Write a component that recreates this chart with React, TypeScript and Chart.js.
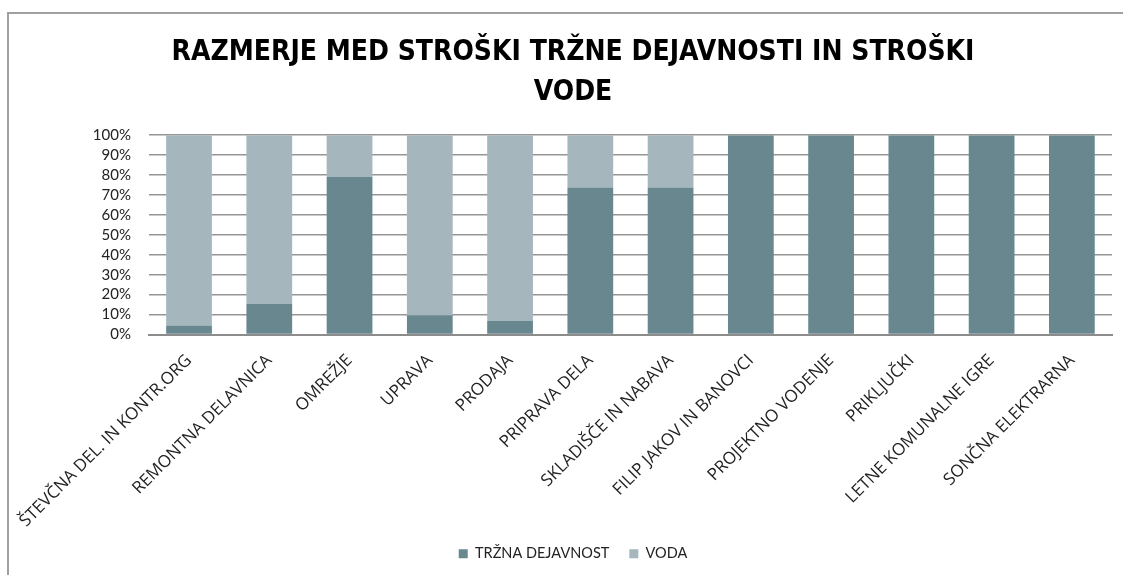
import React, { useEffect, useRef } from "react";
import { Chart, registerables } from "chart.js";

Chart.register(...registerables);

const categories = [
  "ŠTEVČNA DEL. IN KONTR.ORG",
  "REMONTNA DELAVNICA",
  "OMREŽJE",
  "UPRAVA",
  "PRODAJA",
  "PRIPRAVA DELA",
  "SKLADIŠČE IN NABAVA",
  "FILIP JAKOV IN BANOVCI",
  "PROJEKTNO VODENJE",
  "PRIKLJUČKI",
  "LETNE KOMUNALNE IGRE",
  "SONČNA ELEKTRARNA",
];

const trznaDejavnost = [4.5, 15.4, 79, 9.6, 6.9, 73.8, 73.8, 100, 100, 100, 100, 100];
const voda = [95.5, 84.6, 21, 90.4, 93.1, 26.2, 26.2, 0, 0, 0, 0, 0];

const titleLines = ["RAZMERJE MED STROŠKI TRŽNE DEJAVNOSTI IN STROŠKI", "VODE"];
const seriesNames = ["TRŽNA DEJAVNOST", "VODA"];

const FONT = "Lato, 'Open Sans', sans-serif";

export default function App() {
  const ref = useRef<HTMLCanvasElement | null>(null);

  useEffect(() => {
    if (!ref.current) return;
    const chart = new Chart(ref.current, {
      type: "bar",
      data: {
        labels: categories,
        datasets: [
          {
            label: seriesNames[0],
            data: trznaDejavnost,
            backgroundColor: "#68878f",
            borderWidth: 0,
          },
          {
            label: seriesNames[1],
            data: voda,
            backgroundColor: "#a5b7bd",
            borderWidth: 0,
          },
        ],
      },
      options: {
        animation: false,
        responsive: true,
        maintainAspectRatio: false,
        layout: { padding: { left: 25, right: 25, top: 0, bottom: 4 } },
        datasets: {
          bar: { categoryPercentage: 1, barPercentage: 0.57 },
        },
        plugins: {
          title: {
            display: true,
            text: titleLines,
            color: "#000",
            font: { family: "'Liberation Sans Narrow', 'DejaVu Sans Condensed', sans-serif", size: 28, weight: "bold", lineHeight: 1.45 },
            padding: { top: 18, bottom: 22 },
          },
          legend: {
            position: "bottom",
            labels: {
              color: "#222",
              font: { family: FONT, size: 14.5 },
              boxWidth: 9,
              boxHeight: 9,
              padding: 20,
            },
          },
          tooltip: { enabled: false },
        },
        scales: {
          x: {
            stacked: true,
            grid: { display: false },
            border: { display: true, color: "#8c8c8c", width: 2 },
            afterFit: (s: any) => {
              s.height = 192;
            },
            ticks: {
              color: "#222",
              padding: 8,
              font: { family: "'Open Sans', sans-serif", size: 17 },
              maxRotation: 45,
              minRotation: 45,
              autoSkip: false,
            },
          },
          y: {
            stacked: true,
            min: 0,
            max: 100,
            grid: { color: "#969696", lineWidth: 1.5, drawTicks: false },
            border: { display: false },
            afterFit: (s: any) => {
              s.width = 111;
            },
            ticks: {
              stepSize: 10,
              autoSkip: false,
              color: "#222",
              padding: 18,
              font: { family: FONT, size: 15 },
              callback: (v: any) => v + "%",
            },
          },
        },
      },
    });
    return () => chart.destroy();
  }, []);

  return (
    <div
      style={{
        position: "fixed",
        left: 7,
        top: 12,
        right: -14,
        bottom: 0,
        borderLeft: "2px solid #a0a0a0",
        borderTop: "2px solid #a0a0a0",
        background: "#fff",
      }}
    >
      <canvas ref={ref} />
    </div>
  );
}
